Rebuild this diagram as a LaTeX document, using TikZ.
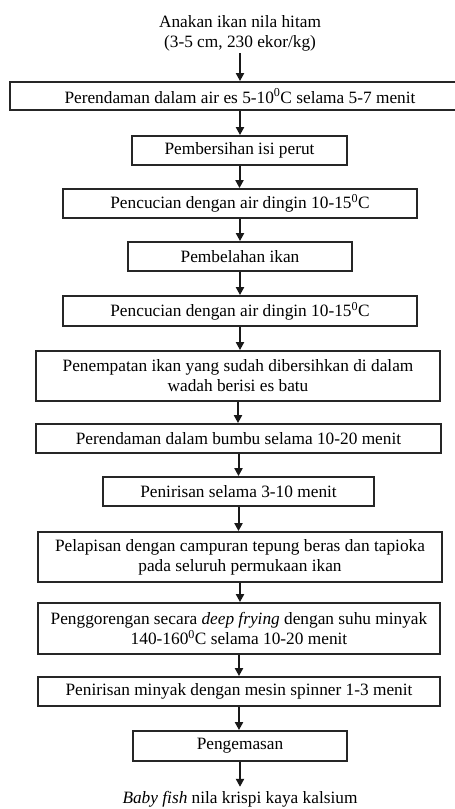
\documentclass[tikz,border=0pt]{standalone}
\usepackage{fontspec}
\setmainfont{Liberation Serif}
\usepackage{tikz}
\usetikzlibrary{arrows.meta, positioning}

\newcommand{\degc}{\textsuperscript{0}C}

\begin{document}
\begin{tikzpicture}[
          x=1pt, y=-1pt,
          every node/.style={font=\fontsize{17.3}{20}\selectfont},
          stepbox/.style={draw=black!85, line width=1.8pt, align=center, inner sep=0pt},
          plain/.style={align=center, inner sep=2pt},
          arrow/.style={-{Triangle[length=8pt, width=8pt]}, line width=2pt, draw=black!90}
        ]
          \useasboundingbox (0,0) rectangle (455,809);

          % Raw material
          \node[plain] (start) at (240, 33) {Anakan ikan nila hitam\\(3-5 cm, 230 ekor/kg)};

          % Process steps
          \node[stepbox, minimum width=460, minimum height=28] (s1) at (240, 96) {Perendaman dalam air es 5-10\degc{} selama 5-7 menit};
          \node[stepbox, minimum width=215, minimum height=29] (s2) at (239.5, 150.5) {Pembersihan isi perut};
          \node[stepbox, minimum width=354, minimum height=29] (s3) at (240, 203.5) {Pencucian dengan air dingin 10-15\degc};
          \node[stepbox, minimum width=224, minimum height=29] (s4) at (240, 256.5) {Pembelahan ikan};
          \node[stepbox, minimum width=354, minimum height=30] (s5) at (240, 311) {Pencucian dengan air dingin 10-15\degc};
          \node[stepbox, minimum width=404, minimum height=50] (s6) at (238, 376) {Penempatan ikan yang sudah dibersihkan di dalam\\wadah berisi es batu};
          \node[stepbox, minimum width=405, minimum height=29] (s7) at (238.5, 438.5) {Perendaman dalam bumbu selama 10-20 menit};
          \node[stepbox, minimum width=271, minimum height=29] (s8) at (238.5, 491.5) {Penirisan selama 3-10 menit};
          \node[stepbox, minimum width=404, minimum height=50] (s9) at (240, 557) {Pelapisan dengan campuran tepung beras dan tapioka\\pada seluruh permukaan ikan};
          \node[stepbox, minimum width=402, minimum height=51] (s10) at (239, 628.5) {Penggorengan secara \textit{deep frying} dengan suhu minyak\\140-160\degc{} selama 10-20 menit};
          \node[stepbox, minimum width=402, minimum height=29] (s11) at (239, 691.5) {Penirisan minyak dengan mesin spinner 1-3 menit};
          \node[stepbox, minimum width=214, minimum height=30] (s12) at (240, 746) {Pengemasan};

          % Product
          \node[plain] (end) at (240, 799) {\textit{Baby fish} nila krispi kaya kalsium};

          % Connections
          \draw[arrow] (start.south) -- (start.south |- s1.north);
          \foreach \a/\b in {s1/s2, s2/s3, s3/s4, s4/s5, s5/s6, s6/s7, s7/s8, s8/s9, s9/s10, s10/s11, s11/s12}
            \draw[arrow] (\a.south) -- (\a.south |- \b.north);
          \draw[arrow, shorten >=2pt] (s12.south) -- (s12.south |- end.north);
        \end{tikzpicture}
\end{document}
